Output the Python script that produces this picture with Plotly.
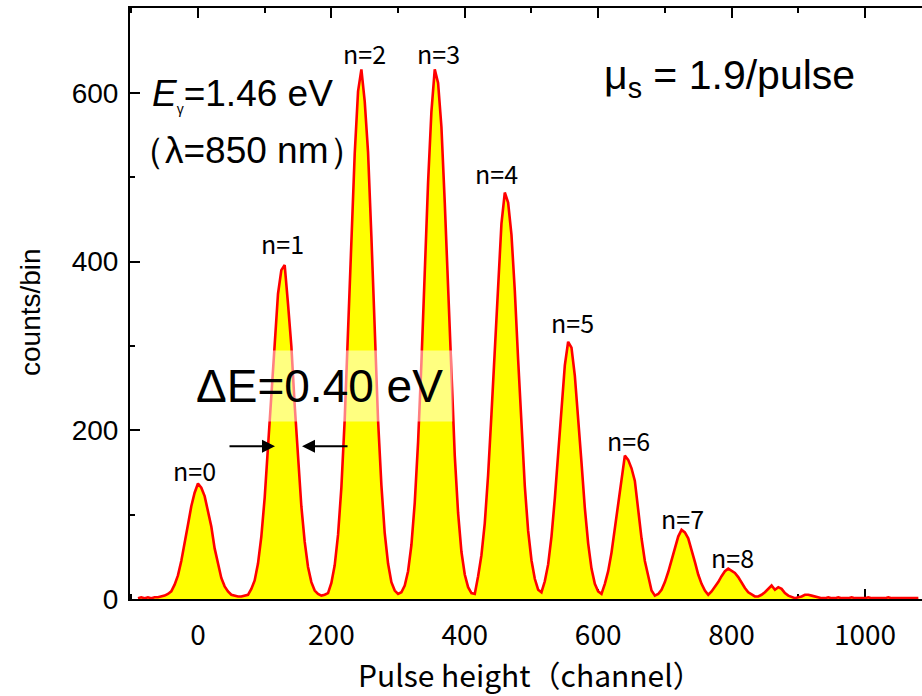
import plotly.graph_objects as go

# ---- data (channel bins every 5 channels starting at -90) ----
bin_start = -90
bin_step = 5
counts = [
    1, 2, 1, 2, 1, 2, 2, 3, 4, 6, 9, 17, 28, 45, 65, 88, 110, 126, 137, 132,
    122, 104, 86, 60, 42, 25, 15, 9, 5, 4, 3, 3, 4, 5,
    12, 22, 42, 74, 120, 180, 245, 312, 362, 390, 396, 350, 300, 230, 168, 110,
    68, 38, 20, 10, 6, 4, 5, 7,
    19, 40, 76, 132, 213, 314, 425, 528, 602, 628, 590, 530, 430, 318, 212, 135,
    78, 42, 20, 10, 6, 8,
    16, 33, 64, 114, 186, 280, 388, 494, 578, 628, 612, 560, 470, 365, 262, 170,
    102, 56, 29, 14, 7, 6,
    27, 52, 90, 147, 219, 300, 380, 445, 482, 470, 432, 366, 284, 203, 134, 81,
    46, 24, 11, 8,
    21, 41, 74, 119, 174, 230, 277, 305, 298, 265, 218, 162, 108, 66, 36, 18, 9, 6,
    18, 33, 55, 84, 116, 145, 170, 165, 155, 140, 105, 72, 45, 26, 10, 4,
    6, 11, 20, 32, 47, 62, 74, 82, 79, 72, 59, 44, 29, 18, 10, 5,
    9, 14, 20, 27, 33, 36, 34, 31, 26, 19, 13, 8, 5, 3,
    3, 5, 8, 12, 16, 11, 14, 12, 7, 4, 2, 1,
    2, 3, 5, 5, 4, 3, 2, 1, 1, 2, 1, 1, 2, 1, 1, 1, 2, 1, 1, 1, 1, 2, 1, 1, 1,
    1, 1, 2, 1, 1, 1, 1, 1, 1, 1, 1, 1,
]
channels = [bin_start + bin_step * i for i in range(len(counts))]

peak_labels = ["n=0", "n=1", "n=2", "n=3", "n=4", "n=5", "n=6", "n=7", "n=8"]
peak_label_x = [-4.5, 126, 250, 360, 448, 561, 646, 727, 802]
peak_label_y = [153, 422, 647, 647, 505, 328, 189, 96, 50]

x_ticks = [0, 200, 400, 600, 800, 1000]
y_ticks = [0, 200, 400, 600]

fig = go.Figure()
fig.add_trace(go.Scatter(
    x=channels, y=counts, mode="lines",
    line=dict(color="#FF0000", width=2.6),
    fill="tozeroy", fillcolor="#FFFF00",
    showlegend=False, hoverinfo="skip",
))

JP = "Noto Sans CJK JP"
AR = "Liberation Sans, Arial"

annotations = []
for t, x, y in zip(peak_labels, peak_label_x, peak_label_y):
    annotations.append(dict(x=x, y=y, xref="x", yref="y", text=t, showarrow=False,
                            font=dict(family=JP, size=25, color="black"),
                            xanchor="center", yanchor="middle"))

# E_gamma text
annotations.append(dict(x=(150 - 130) / 792, y=(599 - 95) / 591, xref="paper", yref="paper",
                        text="<i>E</i><sub><span style='font-size:14px'>γ</span></sub>=1.46 eV",
                        showarrow=False, xanchor="left", yanchor="middle",
                        font=dict(family=AR, size=37, color="black")))
annotations.append(dict(x=(126 - 130) / 792, y=(599 - 150) / 591, xref="paper", yref="paper",
                        text="（λ=850 nm）",
                        showarrow=False, xanchor="left", yanchor="middle",
                        font=dict(family=AR, size=37, color="black")))
annotations.append(dict(x=(602 - 130) / 792, y=(599 - 78) / 591, xref="paper", yref="paper",
                        text="μ<sub>s</sub> = 1.9/pulse",
                        showarrow=False, xanchor="left", yanchor="middle",
                        font=dict(family=AR, size=41, color="black")))
annotations.append(dict(x=(319 - 130) / 792, y=(599 - 386) / 591, xref="paper", yref="paper",
                        text="ΔE=0.40 eV",
                        showarrow=False, xanchor="center", yanchor="middle",
                        bgcolor="rgba(255,255,255,0.5)", borderpad=9,
                        font=dict(family=AR, size=46, color="black")))
# FWHM arrows
annotations.append(dict(x=115.5, y=181, xref="x", yref="y", ax=-47, ay=0, text="",
                        showarrow=True, arrowhead=2, arrowsize=1.3, arrowwidth=2,
                        arrowcolor="black"))
annotations.append(dict(x=156, y=181, xref="x", yref="y", ax=47, ay=0, text="",
                        showarrow=True, arrowhead=2, arrowsize=1.3, arrowwidth=2,
                        arrowcolor="black"))
# axis titles
annotations.append(dict(x=(530 - 130) / 792, y=(599 - 674) / 591, xref="paper", yref="paper",
                        text="Pulse height（channel）", showarrow=False,
                        xanchor="center", yanchor="middle",
                        font=dict(family=JP, size=30, color="black")))
annotations.append(dict(x=(30 - 130) / 792, y=(599 - 312) / 591, xref="paper", yref="paper",
                        text="counts/bin", showarrow=False, textangle=-90,
                        xanchor="center", yanchor="middle",
                        font=dict(family=AR, size=28, color="black")))

fig.update_layout(
    width=922, height=696,
    margin=dict(l=130, r=0, t=8, b=97),
    paper_bgcolor="white", plot_bgcolor="white",
    annotations=annotations,
    xaxis=dict(
        range=[-101.9, 1085.5], tickvals=x_ticks, ticks="inside", ticklen=10, tickwidth=2,
        tickcolor="black", showline=True, linecolor="black", linewidth=2, mirror="ticks",
        showgrid=False, zeroline=False, layer="below traces",
        minor=dict(dtick=100, tick0=0, ticks="inside", ticklen=5, tickwidth=2, tickcolor="black"),
        tickfont=dict(family=JP, size=28, color="black"), ticklabelstandoff=10,
    ),
    yaxis=dict(
        range=[0, 700.8], tickvals=y_ticks, ticks="inside", ticklen=10, tickwidth=2,
        tickcolor="black", showline=True, linecolor="black", linewidth=2, mirror=False,
        showgrid=False, zeroline=False, layer="below traces",
        minor=dict(dtick=100, tick0=0, ticks="inside", ticklen=5, tickwidth=2, tickcolor="black"),
        tickfont=dict(family=AR, size=28, color="black"), ticklabelstandoff=4,
    ),
)

fig.write_html("out.html")
